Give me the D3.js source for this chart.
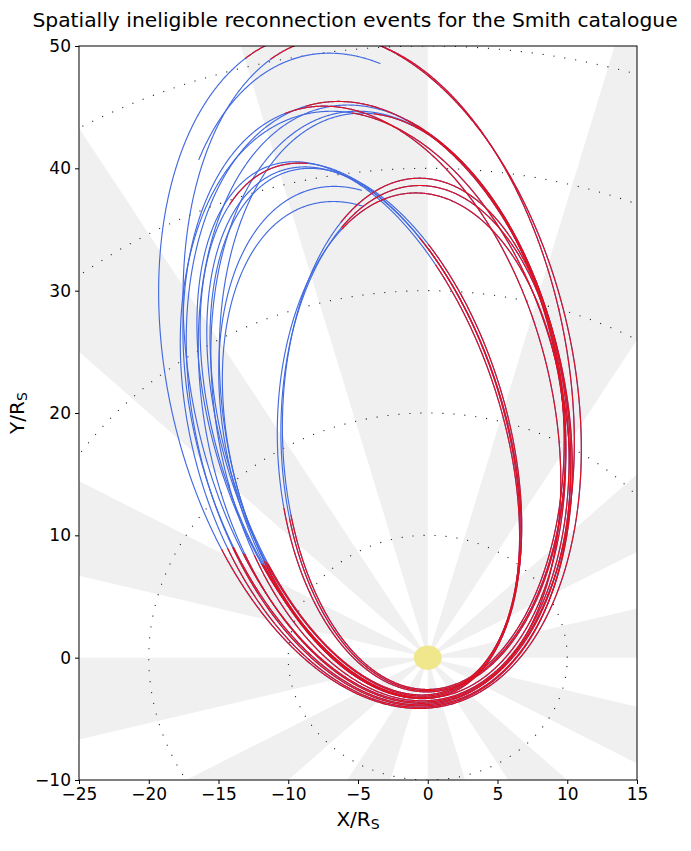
<!DOCTYPE html>
<html>
<head>
<meta charset="utf-8">
<script src="https://cdn.jsdelivr.net/npm/d3@7"></script>
<style>
  body { margin: 0; background: #fff; }
  text { font-family: "DejaVu Sans", sans-serif; }
</style>
</head>
<body>
<div id="d3-chart"></div>
<script>
// Axis ticks
const xTicks = [-25, -20, -15, -10, -5, 0, 5, 10, 15];
const yTicks = [-10, 0, 10, 20, 30, 40, 50];

// Dotted range rings (R_S) and shaded local-time sectors (start angle, deg)
const ringRadii = [10, 20, 30, 40, 50, 60];
const sectorStarts = [0, 30, 60, 90, 120, 150, 180, 210, 240, 270, 300, 330];
const sectorWidth = 15;

// Orbits: periapsis and apoapsis distance (R_S),
// direction of apoapsis (deg from +X) and the projected width factor
const orbitPeri   = [4.1, 3.9, 3.6, 3.9, 3.7, 4.0, 3.5, 3.8, 3.3, 3.2, 3.1, 3.3, 3.0, 3.3, 3.2, 2.6, 2.7, 2.8];
const orbitApo    = [51.8, 50.0, 51.2, 46.0, 45.6, 45.3, 45.0, 45.8, 44.8, 41.6, 41.2, 41.8, 41.0, 39.2, 38.0, 39.2, 38.6, 38.0];
const orbitDir    = [100, 99.5, 98.5, 99.5, 98.5, 100.5, 97.5, 101, 97, 104.5, 104, 105, 103.5, 101.5, 102, 91, 91, 91.5];
const orbitSquash = [1.0, 1.0, 1.0, 1.0, 1.0, 1.0, 1.0, 0.98, 1.0, 0.9, 0.9, 0.88, 0.92, 0.95, 0.95, 1.0, 1.0, 1.0];
// Part of each orbit that is drawn (polar angle from Saturn, deg); null = whole orbit
const orbitSpan = [null, [94, 112], null, null, null, null, null, null, null, null, null, null, null, [97, 250], [97, 250], null, null, null];
// Polar-angle ranges where the orbit is shown blue; the rest is red
const orbitBlue = [
  [[105, 149]], [[0, 360]], [[103, 147]],
  [[101, 147]], [[92, 147]], [[97, 148]], [[89, 146]], [[103, 147]], [[95, 146]],
  [[90, 102], [111, 147]], [[91, 146]], [[89, 147]], [[90, 146]],
  [[97, 147]], [[97, 147]],
  [[100, 130]], [[100, 131]], [[100, 130]]
];

const width = 691,
    height = 851;

const x = d3.scaleLinear().domain([-25, 15]).range([79, 637]);
const y = d3.scaleLinear().domain([-10, 50]).range([780, 46]);

const svg = d3.select("#d3-chart")
    .append("svg")
    .attr("width", width)
    .attr("height", height);

svg.append("defs").append("clipPath")
    .attr("id", "plot-clip")
    .append("rect")
    .attr("x", x(-25)).attr("y", y(50))
    .attr("width", x(15) - x(-25)).attr("height", y(-10) - y(50));

const plot = svg.append("g").attr("clip-path", "url(#plot-clip)");

const line = d3.line().x(d => x(d[0])).y(d => y(d[1]));
const rad = Math.PI / 180;

// Grey sectors
plot.selectAll(".sector")
    .data(sectorStarts)
    .enter()
    .append("path")
    .attr("class", "sector")
    .attr("d", function (s) {
        const pts = [[0, 0]];
        for (let a = s; a <= s + sectorWidth; a += 0.5) {
            pts.push([100 * Math.cos(a * rad), 100 * Math.sin(a * rad)]);
        }
        pts.push([0, 0]);
        return line(pts);
    })
    .attr("fill", "#f0f0f0")
    .attr("stroke", "none");

// Dotted rings
plot.selectAll(".ring")
    .data(ringRadii)
    .enter()
    .append("path")
    .attr("class", "ring")
    .attr("d", function (r) {
        const pts = [];
        for (let a = 0; a <= 360; a += 0.5) pts.push([r * Math.cos(a * rad), r * Math.sin(a * rad)]);
        return line(pts);
    })
    .attr("fill", "none")
    .attr("stroke", "#222")
    .attr("stroke-width", 1.1)
    .attr("stroke-dasharray", "1.1 9.9");

// Orbit track: ellipse with Saturn at the focus, flagged by polar angle
function orbitPoints(i) {
    const rp = orbitPeri[i], ra = orbitApo[i];
    const a = (rp + ra) / 2, c = (ra - rp) / 2;
    const b = orbitSquash[i] * Math.sqrt(rp * ra);
    const th = orbitDir[i] * rad;
    const ux = Math.cos(th), uy = Math.sin(th);
    const pts = [];
    for (let t = 0; t <= 360; t += 0.25) {
        const ct = Math.cos(t * rad), st = Math.sin(t * rad);
        const px = (c + a * ct) * ux - b * st * uy;
        const py = (c + a * ct) * uy + b * st * ux;
        let phi = Math.atan2(py, px) / rad;
        if (phi < 0) phi += 360;
        const span = orbitSpan[i];
        const shown = !span || (phi >= span[0] && phi <= span[1]);
        const blue = orbitBlue[i].some(r => phi >= r[0] && phi <= r[1]);
        pts.push({ p: [px, py], shown: shown, blue: blue });
    }
    return pts;
}

const orbits = orbitPeri.map((d, i) => orbitPoints(i));

const segLine = d3.line()
    .x(d => x(d.p[0]))
    .y(d => y(d.p[1]));

plot.selectAll(".orbit-blue")
    .data(orbits)
    .enter()
    .append("path")
    .attr("class", "orbit-blue")
    .attr("d", d => segLine.defined(p => p.shown)(d))
    .attr("fill", "none")
    .attr("stroke", "royalblue")
    .attr("stroke-width", 1.15);

plot.selectAll(".orbit-red")
    .data(orbits)
    .enter()
    .append("path")
    .attr("class", "orbit-red")
    .attr("d", d => segLine.defined(p => p.shown && !p.blue)(d))
    .attr("fill", "none")
    .attr("stroke", "#e0101e")
    .attr("stroke-width", 1.15);

// Saturn
plot.append("ellipse")
    .attr("cx", x(0)).attr("cy", y(0))
    .attr("rx", x(1) - x(0)).attr("ry", y(0) - y(1))
    .attr("fill", "khaki");

// Axes
svg.append("g")
    .attr("transform", "translate(0," + y(-10) + ")")
    .call(d3.axisBottom(x).tickValues(xTicks).tickSize(4).tickPadding(4))
    .call(g => g.selectAll("text").attr("font-size", 17).attr("fill", "#000"));

svg.append("g")
    .attr("transform", "translate(" + x(-25) + ",0)")
    .call(d3.axisLeft(y).tickValues(yTicks).tickSize(4).tickPadding(4))
    .call(g => g.selectAll("text").attr("font-size", 17).attr("fill", "#000"));

svg.selectAll(".domain").remove();

svg.append("rect")
    .attr("x", x(-25)).attr("y", y(50))
    .attr("width", x(15) - x(-25)).attr("height", y(-10) - y(50))
    .attr("fill", "none")
    .attr("stroke", "#000")
    .attr("stroke-width", 1);

// Title and labels
svg.append("text")
    .attr("x", 355).attr("y", 27)
    .attr("text-anchor", "middle")
    .attr("font-size", 20.3)
    .text("Spatially ineligible reconnection events for the Smith catalogue");

const xl = svg.append("text")
    .attr("x", 358).attr("y", 826)
    .attr("text-anchor", "middle")
    .attr("font-size", 20);
xl.append("tspan").text("X/R");
xl.append("tspan").attr("font-size", 14).attr("dy", 3).text("S");

const yl = svg.append("text")
    .attr("transform", "translate(24," + y(20) + ") rotate(-90)")
    .attr("text-anchor", "middle")
    .attr("font-size", 20);
yl.append("tspan").text("Y/R");
yl.append("tspan").attr("font-size", 14).attr("dy", 3).text("S");
</script>
</body>
</html>
